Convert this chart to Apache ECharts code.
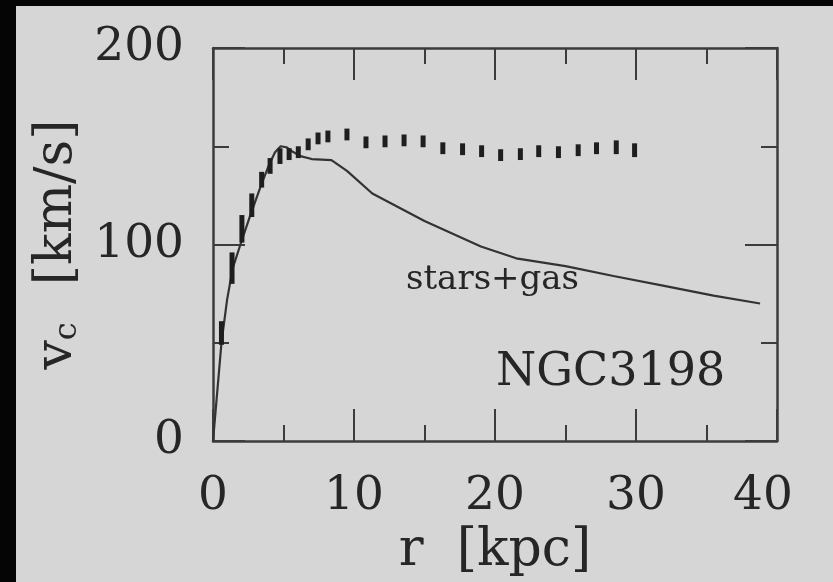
<!DOCTYPE html>
<html>
<head>
<meta charset="utf-8">
<script src="https://cdn.jsdelivr.net/npm/echarts@6/dist/echarts.min.js"></script>
<style>
html,body{margin:0;padding:0;background:#050505;}
#c{width:833px;height:582px;}
</style>
</head>
<body>
<div id="c"></div>
<script>
// Model rotation curve (stars+gas): radius [kpc], velocity [km/s]
const modelR = [0, 0.6, 1.0, 1.4, 1.9, 2.6, 3.4, 4.0, 4.4, 4.8, 5.2, 5.6, 6.2, 7.0, 8.4, 9.5, 11.3, 15, 19, 21.5, 25, 28.4, 32, 35.5, 38.8];
const modelV = [0, 50, 72, 88, 99, 114, 130, 141, 147, 150, 149.5, 147.5, 145, 143.5, 143, 137.5, 126, 112, 99, 93, 89, 84, 79, 74, 70];

// Observed rotation curve with errors
const obsR = [0.6, 1.35, 2.05, 2.75, 3.45, 4.05, 4.75, 5.4, 6.05, 6.75, 7.45, 8.15, 9.5, 10.85, 12.2, 13.55, 14.9, 16.3, 17.7, 19.05, 20.4, 21.8, 23.1, 24.5, 25.9, 27.2, 28.6, 29.9];
const obsV = [55, 88, 108, 120, 133, 140, 145, 146, 147, 151, 154, 155, 156, 152, 152.5, 153, 152.5, 149, 148.5, 147.5, 145.5, 146, 147.5, 147, 148, 149, 149.5, 148];
const obsErr = [6, 8, 7, 6, 4, 4, 4, 3, 3, 3, 3, 3, 3, 3, 3, 3, 3, 3, 3, 3, 3, 3, 3, 3, 3, 3, 3.5, 3.5];

// Axis ticks
const xMin = 0, xMax = 40, xStep = 10;
const yMin = 0, yMax = 200, yStep = 100;

const FONT = 'DejaVu Serif';
const INK = '#262626';
const frameColor = '#3c3c3c';

const chart = echarts.init(document.getElementById('c'));

function axisCommon(showLabels) {
  return {
    axisLine: {show: true, onZero: false, lineStyle: {color: frameColor, width: 2.5}},
    axisTick: {show: true, inside: true, length: 32, lineStyle: {color: frameColor, width: 2}},
    minorTick: {show: true, splitNumber: 2, length: 16, lineStyle: {color: frameColor, width: 2}},
    splitLine: {show: false},
    axisLabel: {show: showLabels, color: INK, fontFamily: FONT, fontSize: 47}
  };
}

const modelData = modelR.map((r, i) => [r, modelV[i]]);
const obsData = obsR.map((r, i) => [r, obsV[i], obsErr[i]]);

const option = {
  backgroundColor: '#050505',
  animation: false,
  graphic: [
    {type: 'rect', z: -100, shape: {x: 16, y: 6, width: 817, height: 576}, style: {fill: '#d6d6d6'}},
    {type: 'text', left: 406, top: 263, style: {text: 'stars+gas', font: '34px "DejaVu Serif"', fill: INK}},
    {type: 'text', left: 496, top: 350, style: {text: 'NGC3198', font: '46px "DejaVu Serif"', fill: INK}}
  ],
  grid: {left: 213, top: 48, width: 564, height: 394, containLabel: false},
  xAxis: [
    Object.assign(axisCommon(true), {
      type: 'value', position: 'bottom', min: xMin, max: xMax, interval: xStep,
      name: 'r  [kpc]', nameLocation: 'middle', nameGap: 76,
      nameTextStyle: {color: INK, fontFamily: FONT, fontSize: 52},
      axisLabel: {show: true, color: INK, fontFamily: FONT, fontSize: 47, margin: 32,
        formatter: v => v === 40 ? '{r|40}' : String(v),
        rich: {r: {fontFamily: FONT, fontSize: 47, color: INK, padding: [0, 28, 0, 0]}}}
    }),
    Object.assign(axisCommon(false), {
      type: 'value', position: 'top', min: xMin, max: xMax, interval: xStep
    })
  ],
  yAxis: [
    Object.assign(axisCommon(true), {
      type: 'value', position: 'left', min: yMin, max: yMax, interval: yStep,
      name: 'v{s|c}  [km/s]', nameLocation: 'middle', nameGap: 128, nameRotate: 90,
      nameTextStyle: {color: INK, fontFamily: FONT, fontSize: 52,
        rich: {s: {fontFamily: FONT, fontSize: 32, color: INK, verticalAlign: 'bottom', padding: [16, 4, 0, 0]}}},
      axisLabel: {show: true, color: INK, fontFamily: FONT, fontSize: 47, margin: 29}
    }),
    Object.assign(axisCommon(false), {
      type: 'value', position: 'right', min: yMin, max: yMax, interval: yStep
    })
  ],
  series: [
    {
      type: 'line', data: modelData, showSymbol: false, smooth: false,
      lineStyle: {color: '#333', width: 2.2}, clip: true, z: 3
    },
    {
      type: 'custom', data: obsData, z: 4,
      renderItem: function (params, api) {
        const r = api.value(0), v = api.value(1), e = api.value(2);
        const top = api.coord([r, v + e]);
        const bot = api.coord([r, v - e]);
        return {
          type: 'rect',
          shape: {x: top[0] - 2.5, y: top[1], width: 5, height: bot[1] - top[1]},
          style: {fill: '#1e1e1e'}
        };
      }
    }
  ]
};
chart.setOption(option);
</script>
</body>
</html>
